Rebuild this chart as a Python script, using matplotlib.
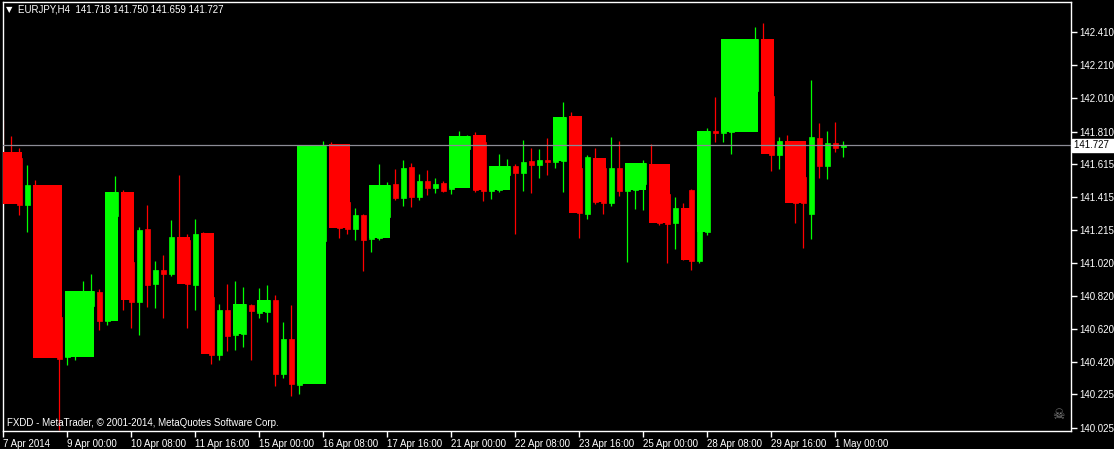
import matplotlib
matplotlib.use('Agg')
import matplotlib.pyplot as plt

# EURJPY H4, bar 0 = 7 Apr 2014 16:00
opens = [141.686, 141.638, 141.650, 141.367, 141.487, 141.264, 140.915, 140.691, 140.450, 140.523,
         140.673, 140.758, 140.842, 140.667, 141.301, 141.445, 141.023, 140.782, 141.222, 140.890,
         140.975, 140.951, 141.174, 141.156, 140.884, 141.198, 140.812, 140.462, 140.734, 140.583,
         140.589, 140.764, 140.716, 140.722, 140.794, 140.348, 140.559, 140.281, 140.770, 141.096,
         141.150, 141.735, 141.457, 141.385, 141.222, 141.307, 141.162, 141.168, 141.295, 141.494,
         141.409, 141.596, 141.415, 141.512, 141.469, 141.500, 141.463, 141.620, 141.705, 141.789,
         141.747, 141.451, 141.457, 141.548, 141.602, 141.560, 141.632, 141.608, 141.638, 141.626,
         141.632, 141.904, 141.590, 141.313, 141.650, 141.590, 141.379, 141.590, 141.451, 141.457,
         141.494, 141.614, 141.548, 141.433, 141.258, 141.349, 141.457, 141.029, 141.204, 141.813,
         141.801, 141.807, 141.940, 142.121, 142.054, 142.368, 142.024, 141.668, 141.753, 141.698,
         141.536, 141.313, 141.771, 141.602, 141.741, 141.718]
highs = [141.879, 141.783, 141.711, 141.608, 141.518, 141.276, 140.945, 140.704, 140.553, 140.704,
         140.909, 140.951, 140.860, 141.313, 141.542, 141.457, 141.047, 141.234, 141.367, 141.029,
         141.065, 141.276, 141.548, 141.192, 141.282, 141.204, 140.854, 140.770, 140.890, 140.909,
         140.872, 140.770, 140.866, 140.884, 140.824, 140.661, 140.764, 140.794, 141.126, 141.427,
         141.753, 141.747, 141.469, 141.397, 141.349, 141.313, 141.216, 141.614, 141.506, 141.584,
         141.638, 141.620, 141.554, 141.578, 141.530, 141.512, 141.656, 141.813, 141.789, 141.807,
         141.765, 141.530, 141.674, 141.644, 141.614, 141.759, 141.711, 141.705, 141.771, 141.680,
         141.988, 141.928, 141.608, 141.668, 141.711, 141.638, 141.777, 141.753, 141.500, 141.590,
         141.638, 141.735, 141.578, 141.457, 141.415, 141.379, 141.463, 141.228, 141.831, 142.018,
         141.910, 142.030, 142.211, 142.362, 142.440, 142.464, 142.036, 141.777, 141.789, 141.729,
         141.548, 142.121, 141.861, 141.813, 141.867, 141.750]
lows = [141.373, 141.397, 141.307, 141.204, 141.246, 140.884, 140.583, 140.010, 140.402, 140.432,
        140.613, 140.722, 140.613, 140.643, 141.276, 140.734, 140.625, 140.583, 140.752, 140.746,
        140.685, 140.939, 140.975, 140.625, 140.734, 140.734, 140.408, 140.432, 140.486, 140.492,
        140.511, 140.432, 140.685, 140.661, 140.275, 140.324, 140.215, 140.227, 140.758, 141.083,
        141.126, 141.397, 141.168, 141.192, 141.156, 140.969, 141.083, 141.156, 141.276, 141.397,
        141.361, 141.355, 141.397, 141.427, 141.439, 141.445, 141.433, 141.608, 141.686, 141.445,
        141.391, 141.403, 141.445, 141.536, 141.192, 141.451, 141.439, 141.530, 141.548, 141.590,
        141.445, 141.578, 141.168, 141.282, 141.373, 141.313, 141.361, 141.421, 141.023, 141.343,
        141.337, 141.264, 141.246, 141.017, 141.102, 141.035, 140.975, 141.017, 141.186, 141.747,
        141.747, 141.674, 141.928, 142.109, 142.024, 142.006, 141.572, 141.584, 141.590, 141.258,
        141.108, 141.162, 141.530, 141.524, 141.686, 141.659]
closes = [141.397, 141.457, 141.367, 141.487, 141.264, 140.915, 140.613, 140.438, 140.523, 140.673,
          140.824, 140.848, 140.667, 141.301, 141.445, 140.806, 140.782, 141.216, 140.884, 140.975,
          140.951, 141.174, 141.023, 140.890, 141.192, 140.794, 140.462, 140.734, 140.577, 140.734,
          140.770, 140.728, 140.770, 140.794, 140.348, 140.559, 140.287, 140.770, 141.096, 141.397,
          141.723, 141.415, 141.228, 141.222, 141.307, 141.156, 141.198, 141.457, 141.487, 141.409,
          141.590, 141.415, 141.512, 141.469, 141.494, 141.451, 141.644, 141.783, 141.783, 141.457,
          141.451, 141.512, 141.602, 141.602, 141.560, 141.626, 141.608, 141.638, 141.626, 141.662,
          141.898, 141.590, 141.319, 141.656, 141.385, 141.379, 141.590, 141.451, 141.487, 141.578,
          141.620, 141.276, 141.258, 141.252, 141.349, 141.047, 141.029, 141.210, 141.813, 141.801,
          141.898, 142.000, 142.181, 142.332, 142.368, 142.018, 141.668, 141.753, 141.608, 141.379,
          141.379, 141.777, 141.602, 141.741, 141.711, 141.727]

# wide bodies drawn over several bars
box_first = [0, 4, 8, 13, 15, 22, 25, 29, 32, 37, 41, 46, 56, 59, 61, 69, 71, 74, 78, 81, 85, 87, 90, 95, 98]
box_last = [2, 7, 11, 14, 16, 23, 26, 30, 33, 40, 43, 48, 58, 60, 63, 70, 72, 75, 80, 83, 86, 88, 94, 96, 100]
box_open = [141.686, 141.487, 140.450, 140.667, 141.445, 141.174, 141.198, 140.589, 140.722, 140.287,
            141.735, 141.168, 141.469, 141.789, 141.457, 141.632, 141.904, 141.650, 141.457, 141.614,
            141.349, 141.204, 141.807, 142.368, 141.753]
box_close = [141.373, 140.444, 140.848, 141.445, 140.794, 140.890, 140.468, 140.770, 140.794, 141.723,
             141.228, 141.487, 141.783, 141.457, 141.602, 141.898, 141.319, 141.385, 141.620, 141.258,
             141.035, 141.813, 142.368, 141.674, 141.379]

time_labels = ['7 Apr 2014', '9 Apr 00:00', '10 Apr 08:00', '11 Apr 16:00', '15 Apr 00:00',
               '16 Apr 08:00', '17 Apr 16:00', '21 Apr 00:00', '22 Apr 08:00', '23 Apr 16:00',
               '25 Apr 00:00', '28 Apr 08:00', '29 Apr 16:00', '1 May 00:00']
price_ticks = [142.410, 142.210, 142.010, 141.810, 141.615, 141.415, 141.215,
               141.020, 140.820, 140.620, 140.420, 140.225, 140.025]
last_price = 141.727

UP = '#00ff00'
DOWN = '#ff0000'
FG = '#ffffff'
FS = 7

plt.rcParams['font.family'] = ['Liberation Sans', 'DejaVu Sans']

fig = plt.figure(figsize=(11.14, 4.49), dpi=100, facecolor='black')
ax = fig.add_axes([3 / 1114, 18 / 449, 1068 / 1114, 429 / 449])
ax.set_facecolor('black')

n = len(opens)
idx = list(range(n))
colors = [UP if c >= o else DOWN for o, c in zip(opens, closes)]

# wicks
ax.vlines(idx, lows, highs, colors=colors, linewidth=0.9, zorder=2)

# narrow bodies
bottoms = [min(o, c) for o, c in zip(opens, closes)]
heights = [abs(c - o) for o, c in zip(opens, closes)]
ax.bar(idx, heights, width=0.62, bottom=bottoms, color=colors, edgecolor=colors,
       linewidth=0.5, zorder=3)

# wide bodies
bx = [(f + l) / 2 for f, l in zip(box_first, box_last)]
bw = [l - f + 0.6 for f, l in zip(box_first, box_last)]
bb = [min(o, c) for o, c in zip(box_open, box_close)]
bh = [abs(c - o) for o, c in zip(box_open, box_close)]
bc = [UP if c >= o else DOWN for o, c in zip(box_open, box_close)]
ax.bar(bx, bh, width=bw, bottom=bb, color=bc, linewidth=0, zorder=4)

# current price line
ax.axhline(last_price, color='#8c8c96', linewidth=0.9, zorder=5)

ax.set_xlim(-0.05, 133.45)
ax.set_ylim(140.004, 142.591)

for s in ax.spines.values():
    s.set_color(FG)
    s.set_linewidth(1)

ax.yaxis.tick_right()
ax.set_yticks(price_ticks)
ax.set_yticklabels(['%.3f' % p for p in price_ticks])
ax.tick_params(axis='y', colors=FG, length=4, width=1, pad=2, labelsize=FS)

ax.set_xticks(range(0, 8 * len(time_labels), 8))
ax.set_xticklabels(time_labels, ha='left')
ax.tick_params(axis='x', colors=FG, length=4, width=1, pad=2, labelsize=FS)

# last price marker on the scale
ax.annotate('%.3f  ' % last_price, xy=(1, last_price), xycoords=('axes fraction', 'data'),
            xytext=(2, 0), textcoords='offset points', ha='left', va='center',
            fontsize=FS, color='black',
            bbox=dict(boxstyle='square,pad=0.15', fc='white', ec='white'))

fig.text(6 / 1114, 1 - 10 / 449, '\u25bc', color=FG, fontsize=6, ha='left', va='center',
         family='DejaVu Sans')
fig.text(18 / 1114, 1 - 10 / 449, 'EURJPY,H4  141.718 141.750 141.659 141.727',
         color=FG, fontsize=FS, ha='left', va='center')
fig.text(7 / 1114, 1 - 423 / 449, 'FXDD - MetaTrader, \u00a9 2001-2014, MetaQuotes Software Corp.',
         color=FG, fontsize=FS, ha='left', va='center')
fig.text(1058 / 1114, 1 - 415 / 449, '\u2620', color='#808080', fontsize=10, ha='center',
         va='center', family='DejaVu Sans')

fig.savefig('out.png', dpi=100, facecolor='black')
